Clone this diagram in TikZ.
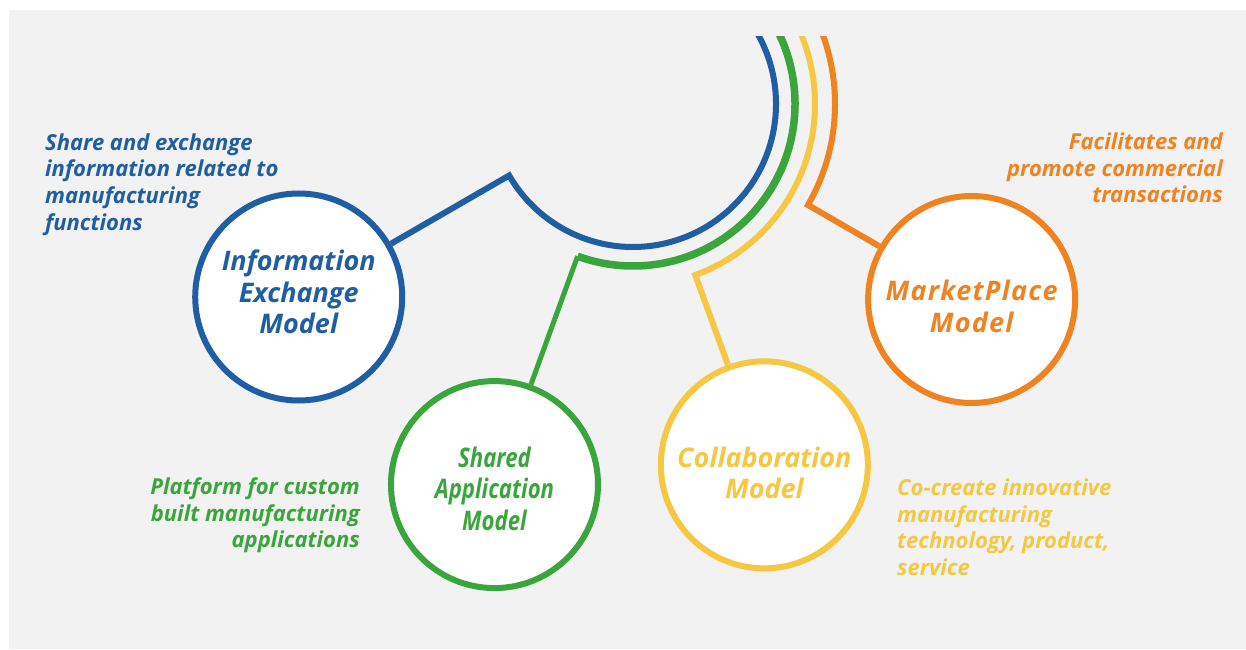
\documentclass[tikz,border=0pt]{standalone}
\usepackage{fontspec}
\setmainfont{Open Sans}
\newfontfamily\condfont[FakeStretch=0.82]{Open Sans}
\newfontfamily\widefont[LetterSpace=4.5]{Open Sans}
\usetikzlibrary{positioning,calc}
\definecolor{ieblue}{RGB}{31,94,162}
\definecolor{sagreen}{RGB}{57,165,60}
\definecolor{cmyellow}{RGB}{245,199,67}
\definecolor{mporange}{RGB}{239,131,34}
\definecolor{bggray}{RGB}{242,242,242}

\begin{document}
\begin{tikzpicture}[x=1pt,y=1pt,
        model/.style={circle,draw=#1,fill=white,line width=6pt,minimum size=207pt,inner sep=0pt},
        title/.style={text=#1,align=center,inner sep=0pt,font=\fontsize{27}{31.5}\selectfont\bfseries\itshape},
        note/.style={text=#1,align=left,inner sep=0pt,font=\fontsize{22}{26.5}\selectfont\bfseries\itshape}]
   \useasboundingbox (0,0) rectangle (1246,649);
   \fill[bggray] (9,0) rectangle (1246,639);
   \coordinate (O) at (633,545);

   \node (IE) [model=ieblue] at ($(O)+(-150:386)$) {};
   \node (SA) [model=sagreen] at ($(O)+(-110:405)$) {};
   \node (CM) [model=cmyellow] at ($(O)+(-70:384)$) {};
   \node (MP) [model=mporange] at ($(O)+(-30:391)$) {};

   \node (tIE) [title=ieblue] at ([yshift=5]IE.center) {Information\\Exchange\\Model};
   \node (tSA) [title=sagreen,font=\fontsize{27}{31.5}\selectfont\condfont\bfseries\itshape] at ([yshift=-4]SA.center) {Shared\\Application\\Model};
   \node (tCM) [title=cmyellow] at ([yshift=-8]CM.center) {Collaboration\\Model};
   \node (tMP) [title=mporange,font=\fontsize{27}{31.5}\selectfont\widefont\bfseries\itshape] at ([yshift=-7]MP.center) {MarketPlace\\Model};

   \begin{scope}
      \clip (0,0) rectangle (1246,612);
      \draw[ieblue,line width=6pt] ($(O)+(40:143)$) arc[start angle=40,end angle=-150,radius=143] -- (IE);
      \draw[sagreen,line width=7.5pt] ($(O)+(40:162)$) arc[start angle=40,end angle=-110,radius=162];
      \draw[sagreen,line width=5pt] ($(O)+(-110:162)$) -- (SA);
      \draw[cmyellow,line width=6pt] ($(O)+(40:182)$) arc[start angle=40,end angle=-70,radius=182] -- (CM);
      \draw[mporange,line width=6pt] ($(O)+(40:202)$) arc[start angle=40,end angle=-30,radius=202] -- (MP);
   \end{scope}

   \node (nIE) [note=ieblue,anchor=base west] at (45,419) {Share and exchange\\information related to\\manufacturing\\functions};
   \node (nSA) [note=sagreen,align=right,anchor=base east] at (360,101.3) {Platform for custom\\built manufacturing\\applications};
   \node (nCM) [note=cmyellow,anchor=base west] at (897,74) {Co-create innovative\\manufacturing\\technology, product,\\service};
   \node (nMP) [note=mporange,align=right,anchor=base east] at (1223,446.3) {Facilitates and\\promote commercial\\transactions};
\end{tikzpicture}
\end{document}
